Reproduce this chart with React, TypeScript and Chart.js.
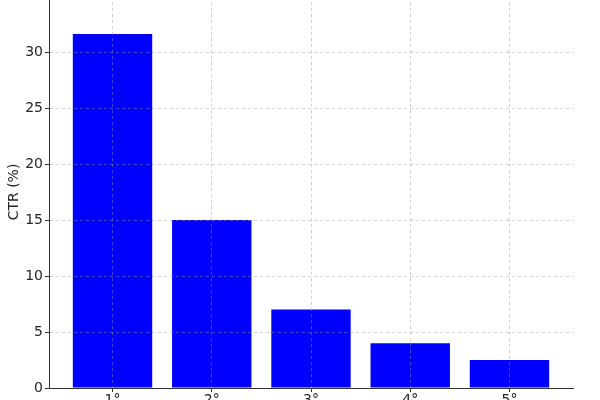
import React, { useEffect, useRef } from "react";
import { Chart, registerables } from "chart.js";

Chart.register(...registerables);

const categories = ["1°", "2°", "3°", "4°", "5°"];
const ctrValues = [31.6, 15.0, 7.0, 4.0, 2.5];
const yTicks = [0, 5, 10, 15, 20, 25, 30, 35];

export default function App() {
  const ref = useRef<HTMLCanvasElement | null>(null);

  useEffect(() => {
    if (!ref.current) return;
    const font = { family: "DejaVu Sans", size: 14 };
    const gridColor = "rgba(150,150,150,0.45)";
    const chart = new Chart(ref.current, {
      type: "bar",
      data: {
        datasets: [
          {
            label: "CTR",
            data: ctrValues.map((v, i) => ({ x: i, y: v })),
            backgroundColor: "#0000ff",
            borderWidth: 0,
            categoryPercentage: 0.8,
            barPercentage: 1.0,
          },
        ],
      },
      options: {
        responsive: false,
        animation: false,
        layout: { padding: { top: 26, right: 27, left: 0, bottom: 0 } },
        plugins: { legend: { display: false }, tooltip: { enabled: false } },
        scales: {
          x: {
            type: "linear",
            min: -0.64,
            max: categories.length - 1 + 0.64,
            offset: false,
            afterBuildTicks: (scale: any) => {
              scale.ticks = categories.map((_, i) => ({ value: i }));
            },
            afterFit: (scale: any) => {
              scale.height = 42;
            },
            ticks: {
              autoSkip: false,
              maxRotation: 0,
              padding: 0,
              color: "#262626",
              font,
              callback: (v: any) => categories[Number(v)] ?? "",
            },
            grid: {
              z: 1,
              offset: false,
              color: gridColor,
              tickColor: "#333",
              tickLength: 4,
              drawTicks: true,
            },
            border: { display: true, color: "#333", width: 1, dash: [3, 3], z: 2 },
          },
          y: {
            type: "linear",
            min: 0,
            max: 35,
            afterBuildTicks: (scale: any) => {
              scale.ticks = yTicks.map((v) => ({ value: v }));
            },
            afterFit: (scale: any) => {
              scale.width = 49;
            },
            ticks: {
              padding: 2,
              color: "#262626",
              font,
            },
            title: {
              display: true,
              text: "CTR (%)",
              color: "#262626",
              font,
              padding: { top: 6, bottom: 0 },
            },
            grid: {
              z: 1,
              color: gridColor,
              tickColor: "#333",
              tickLength: 4,
            },
            border: { display: true, color: "#333", width: 1, dash: [3, 3], z: 2 },
          },
        },
      },
    } as any);
    return () => chart.destroy();
  }, []);

  return (
    <div
      style={{
        position: "fixed",
        left: 0,
        top: 0,
        width: 600,
        height: 400,
        overflow: "hidden",
        background: "#fff",
      }}
    >
      <canvas
        ref={ref}
        width={600}
        height={460}
        style={{ position: "absolute", left: 0, top: -30, width: 600, height: 460 }}
      />
    </div>
  );
}
